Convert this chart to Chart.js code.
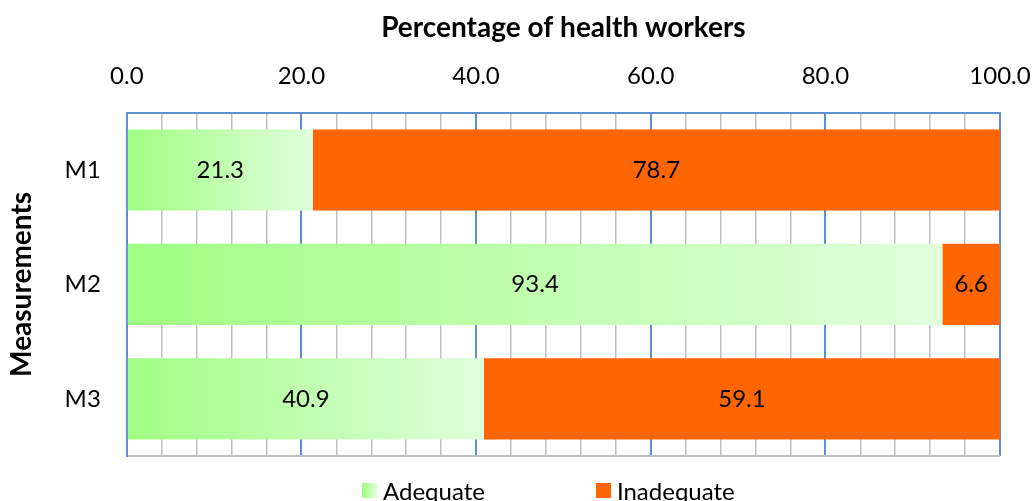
<!DOCTYPE html>
<html>
<head>
<meta charset="utf-8">
<script src="https://cdn.jsdelivr.net/npm/chart.js@4"></script>
<style>
  html, body { margin: 0; padding: 0; background: #fff; }
  #wrap { position: relative; width: 1033px; height: 501px; }
  #legend {
    position: absolute; left: 362px; top: 475px; height: 30px;
    display: flex; align-items: center;
    font-family: Lato, "Liberation Sans", sans-serif; font-size: 24px; color: #000;
  }
  .item { display: flex; align-items: center; }
  .box { width: 15px; height: 15px; margin-right: 6px; }
</style>
</head>
<body>
<div id="wrap">
  <canvas id="chart" width="1033" height="501"></canvas>
  <div id="legend">
    <div class="item" style="margin-right:111px"><span class="box" style="background:linear-gradient(90deg,#A0FF82,#E0FFDC)"></span>Adequate</div>
    <div class="item"><span class="box" style="background:#FF6600"></span>Inadequate</div>
  </div>
</div>
<script>
// ── Data ─────────────────────────────────────────────
const measurements = ["M1", "M2", "M3"];
const adequate = [21.3, 93.4, 40.9];
const inadequate = [78.7, 6.6, 59.1];

const FONT = "Lato, 'Liberation Sans', sans-serif";
const BLUE = "#5F8FD3";
const GREY = "#BFBFBF";

// gradient per bar, from the bar's left edge to its right edge
function greenGradient(context) {
  const chart = context.chart;
  if (!chart.chartArea || context.type !== "data") return "#B8FCA8";
  const x = chart.scales.x;
  const x0 = x.getPixelForValue(0);
  const x1 = x.getPixelForValue(adequate[context.dataIndex]);
  const g = chart.ctx.createLinearGradient(x0, 0, x1, 0);
  g.addColorStop(0, "#A0FF82");
  g.addColorStop(1, "#E0FFDC");
  return g;
}

// value labels in the middle of each bar
const barLabels = {
  id: "barLabels",
  afterDatasetsDraw(chart) {
    const ctx = chart.ctx;
    ctx.save();
    ctx.font = "24px " + FONT;
    ctx.fillStyle = "#000";
    ctx.textAlign = "center";
    ctx.textBaseline = "middle";
    chart.data.datasets.forEach((ds, i) => {
      chart.getDatasetMeta(i).data.forEach((bar, j) => {
        const mid = (bar.x + bar.base) / 2;
        ctx.fillText(ds.data[j].toFixed(1), mid, bar.y);
      });
    });
    ctx.restore();
  },
};

new Chart(document.getElementById("chart"), {
  type: "bar",
  data: {
    labels: measurements,
    datasets: [
      {
        label: "Adequate",
        data: adequate,
        backgroundColor: greenGradient,
        borderWidth: 0,
        barPercentage: 0.71,
        categoryPercentage: 1,
      },
      {
        label: "Inadequate",
        data: inadequate,
        backgroundColor: "#FF6600",
        borderWidth: 0,
        barPercentage: 0.71,
        categoryPercentage: 1,
      },
    ],
  },
  options: {
    responsive: false,
    animation: false,
    indexAxis: "y",
    layout: { padding: { left: 1, right: 0, top: 0, bottom: 45 } },
    plugins: {
      legend: { display: false },
      tooltip: { enabled: false },
    },
    scales: {
      x: {
        position: "top",
        stacked: true,
        min: 0,
        max: 100,
        afterFit: (scale) => {
          scale.paddingRight = 33; // room for the "100.0" label
        },
        ticks: {
          stepSize: 4,
          autoSkip: false,
          maxRotation: 0,
          padding: 22,
          color: "#000",
          font: { family: FONT, size: 24 },
          callback: (v) => (v % 20 === 0 ? v.toFixed(1) : ""),
        },
        grid: {
          drawTicks: false,
          color: (c) => (c.tick && c.tick.value % 20 === 0 ? BLUE : GREY),
          lineWidth: (c) => (c.tick && c.tick.value % 20 === 0 ? 2 : 1.5),
        },
        border: { color: BLUE, width: 2 },
        title: {
          display: true,
          text: "Percentage of health workers",
          color: "#000",
          font: { family: FONT, size: 28, weight: "bold", lineHeight: 1 },
          padding: { top: 14, bottom: -2 },
        },
      },
      y: {
        stacked: true,
        ticks: {
          padding: 26,
          color: "#000",
          font: { family: FONT, size: 24 },
        },
        grid: {
          offset: true,
          drawTicks: false,
          color: (c) => (c.type === "tick" ? "rgba(0,0,0,0)" : GREY),
          lineWidth: 2,
        },
        border: { color: BLUE, width: 2 },
        title: {
          display: true,
          text: "Measurements",
          color: "#000",
          font: { family: FONT, size: 28, weight: "bold" },
          padding: { top: 4, bottom: 0 },
        },
      },
    },
  },
  plugins: [barLabels],
});
</script>
</body>
</html>
